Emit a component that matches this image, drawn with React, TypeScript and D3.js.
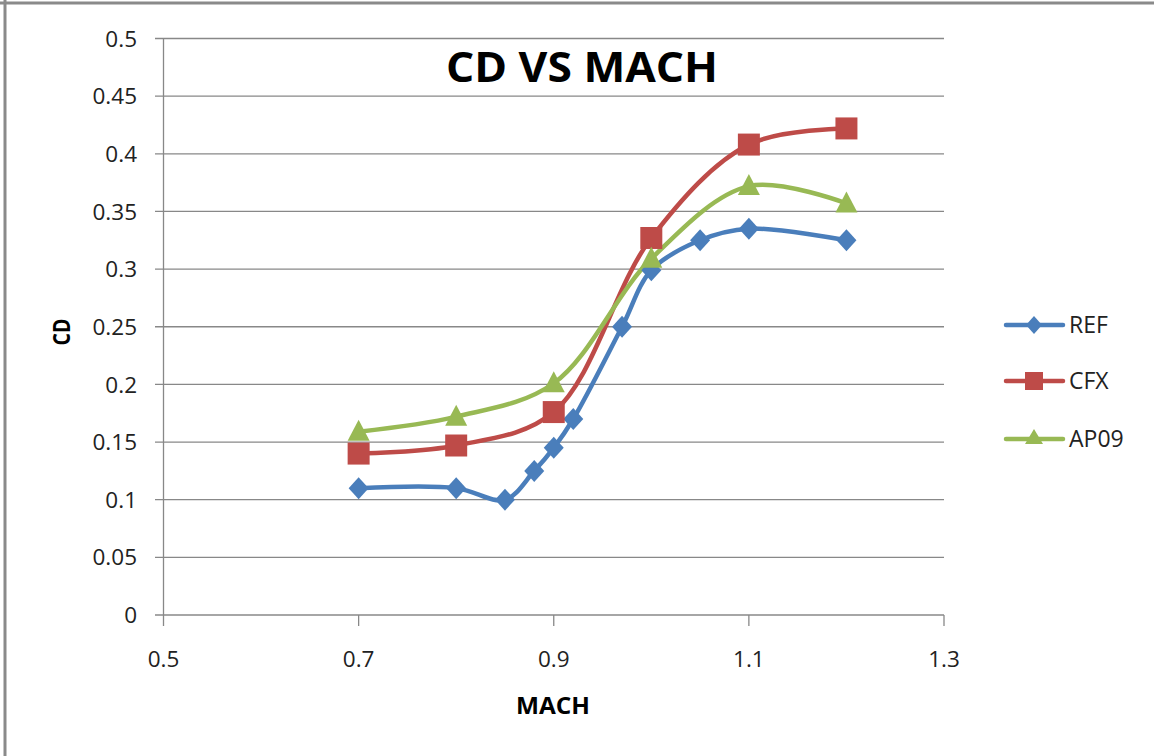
import React, { useEffect, useRef } from 'react';
import * as d3 from 'd3';

const refMach = [0.7, 0.8, 0.85, 0.88, 0.9, 0.92, 0.97, 1.0, 1.05, 1.1, 1.2];
const refCd = [0.11, 0.11, 0.1, 0.125, 0.145, 0.17, 0.25, 0.299, 0.325, 0.335, 0.325];
const cfxMach = [0.7, 0.8, 0.9, 1.0, 1.1, 1.2];
const cfxCd = [0.14, 0.147, 0.176, 0.327, 0.408, 0.422];
const apMach = [0.7, 0.8, 0.9, 1.0, 1.1, 1.2];
const apCd = [0.159, 0.172, 0.201, 0.309, 0.372, 0.357];
const xTicks = [0.5, 0.7, 0.9, 1.1, 1.3];
const yTicks = [0, 0.05, 0.1, 0.15, 0.2, 0.25, 0.3, 0.35, 0.4, 0.45, 0.5];

const series = [
  { name: 'REF', x: refMach, y: refCd, color: '#4a7ebb', symbol: 'diamond' },
  { name: 'CFX', x: cfxMach, y: cfxCd, color: '#be4b48', symbol: 'square' },
  { name: 'AP09', x: apMach, y: apCd, color: '#98b954', symbol: 'triangle' },
];

const font = 'Open Sans, Lato, sans-serif';

const App: React.FC = () => {
  const svgRef = useRef<SVGSVGElement>(null);

  useEffect(() => {
    if (!svgRef.current) return;
    const width = 1154;
    const height = 756;
    const svg = d3.select(svgRef.current);
    svg.selectAll('*').remove();
    svg.attr('width', width).attr('height', height);

    svg.append('rect').attr('width', width).attr('height', height).attr('fill', '#fff');

    // outer frame (only top and left visible)
    svg.append('line').attr('x1', 0).attr('x2', width).attr('y1', 3).attr('y2', 3)
      .attr('stroke', '#8a8a8a').attr('stroke-width', 3);
    svg.append('line').attr('x1', 5).attr('x2', 5).attr('y1', 0).attr('y2', height)
      .attr('stroke', '#8a8a8a').attr('stroke-width', 3);

    const x = d3.scaleLinear().domain([0.5, 1.3]).range([163.5, 944]);
    const y = d3.scaleLinear().domain([0, 0.5]).range([615, 38.5]);
    const grid = '#888888';

    // gridlines + y ticks
    const g = svg.append('g');
    yTicks.forEach((t) => {
      g.append('line').attr('x1', 155).attr('x2', 944).attr('y1', y(t)).attr('y2', y(t))
        .attr('stroke', grid).attr('stroke-width', 1.3);
      g.append('text').attr('x', 137).attr('y', y(t)).attr('dy', '0.36em')
        .attr('text-anchor', 'end').attr('font-family', font).attr('font-size', 22.5)
        .attr('fill', '#222').text(String(t));
    });
    // y axis line
    g.append('line').attr('x1', x(0.5)).attr('x2', x(0.5)).attr('y1', y(0.5)).attr('y2', y(0))
      .attr('stroke', grid).attr('stroke-width', 1.3);
    // x ticks
    xTicks.forEach((t) => {
      g.append('line').attr('x1', x(t)).attr('x2', x(t)).attr('y1', y(0)).attr('y2', y(0) + 11)
        .attr('stroke', grid).attr('stroke-width', 1.3);
      g.append('text').attr('x', x(t)).attr('y', 667)
        .attr('text-anchor', 'middle').attr('font-family', font).attr('font-size', 22.5)
        .attr('fill', '#222').text(String(t));
    });

    // title with white background
    svg.append('rect').attr('x', 430).attr('y', 44).attr('width', 300).attr('height', 50).attr('fill', '#fff');
    svg.append('text').attr('x', 582).attr('y', 82).attr('text-anchor', 'middle')
      .attr('font-family', font).attr('font-weight', 'bold').attr('font-size', 41)
      .attr('textLength', 272).attr('lengthAdjust', 'spacingAndGlyphs')
      .attr('fill', '#000').text('CD VS MACH');

    svg.append('text').attr('x', 553).attr('y', 714).attr('text-anchor', 'middle')
      .attr('font-family', font).attr('font-weight', 'bold').attr('font-size', 23)
      .attr('textLength', 74).attr('lengthAdjust', 'spacingAndGlyphs')
      .attr('fill', '#000').text('MACH');
    svg.append('text').attr('transform', 'translate(70,332) rotate(-90)').attr('text-anchor', 'middle')
      .attr('font-family', font).attr('font-weight', 'bold').attr('font-size', 23)
      .attr('textLength', 27).attr('lengthAdjust', 'spacingAndGlyphs')
      .attr('fill', '#000').text('CD');

    const symbolPath = (s: string) => {
      if (s === 'diamond') return 'M0,-11 L10,0 L0,11 L-10,0 Z';
      if (s === 'square') return 'M-11,-11 H11 V11 H-11 Z';
      return 'M0,-12 L11,9 L-11,9 Z';
    };

    const line = d3.line<[number, number]>()
      .x((d) => x(d[0])).y((d) => y(d[1]))
      .curve(d3.curveCatmullRom.alpha(0.5));

    series.forEach((s) => {
      const pts = s.x.map((v, i) => [v, s.y[i]] as [number, number]);
      svg.append('path').attr('d', line(pts) as string).attr('fill', 'none')
        .attr('stroke', s.color).attr('stroke-width', 4.5).attr('stroke-linejoin', 'round');
    });
    series.forEach((s) => {
      s.x.forEach((v, i) => {
        svg.append('path').attr('d', symbolPath(s.symbol))
          .attr('transform', `translate(${x(v)},${y(s.y[i])})`).attr('fill', s.color);
      });
    });

    // legend
    const legendY = [325, 381, 439];
    series.forEach((s, i) => {
      const ly = legendY[i];
      svg.append('line').attr('x1', 1006).attr('x2', 1063).attr('y1', ly).attr('y2', ly)
        .attr('stroke', s.color).attr('stroke-width', 4.5).attr('stroke-linecap', 'round');
      const m = s.symbol === 'diamond' ? 'M0,-9 L8,0 L0,9 L-8,0 Z'
        : s.symbol === 'square' ? 'M-9,-9 H9 V9 H-9 Z' : 'M0,-9 L9,6 L-9,6 Z';
      svg.append('path').attr('d', m).attr('transform', `translate(1034,${s.symbol === 'triangle' ? ly - 1 : ly})`)
        .attr('fill', s.color);
      svg.append('text').attr('x', 1069).attr('y', ly).attr('dy', '0.36em')
        .attr('font-family', font).attr('font-size', 23).attr('fill', '#222').text(s.name);
    });
  }, []);

  return <svg ref={svgRef} style={{ position: 'absolute', left: 0, top: 0 }} />;
};

export default App;
